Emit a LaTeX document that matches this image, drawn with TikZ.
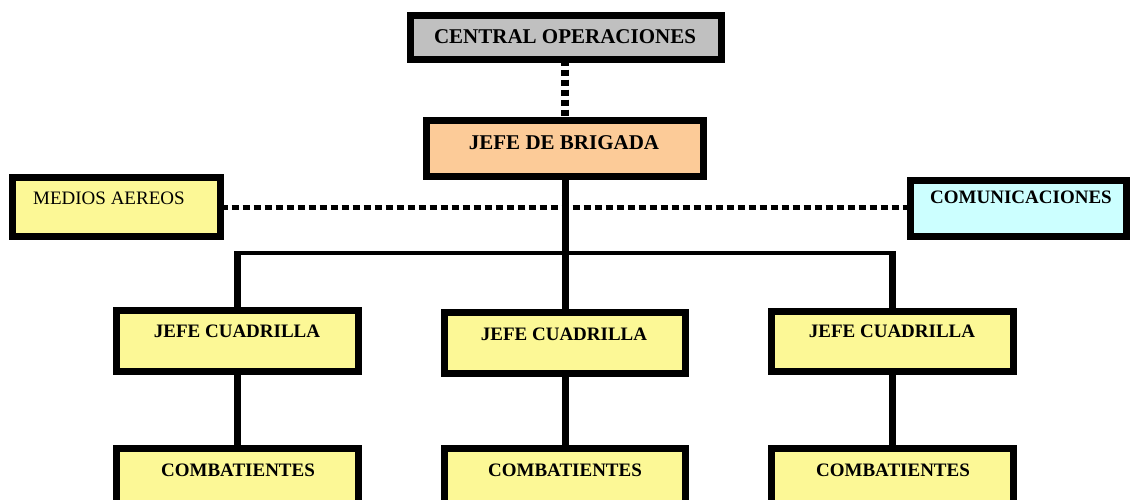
\documentclass[tikz,border=0pt]{standalone}
\usepackage{fontspec}
\setmainfont{Liberation Serif}
\usetikzlibrary{calc}
\definecolor{boxgray}{HTML}{C0C0C0}
\definecolor{boxorange}{HTML}{FCCB98}
\definecolor{boxyellow}{HTML}{FCF896}
\definecolor{boxcyan}{HTML}{CCFFFF}
\tikzset{
  box/.style={draw=black, line width=7pt, inner sep=0pt, outer sep=0pt},
  lblbig/.style={font=\fontsize{21}{21}\selectfont\bfseries, inner sep=0pt},
  lbl/.style={font=\fontsize{19}{19}\selectfont\bfseries, inner sep=0pt},
  lblreg/.style={font=\fontsize{19}{19}\selectfont, inner sep=0pt},
  solidcon/.style={line width=7pt},
  buscon/.style={line width=4pt},
  dotv/.style={line width=8pt, dash pattern=on 6pt off 4pt},
  doth/.style={line width=5pt, dash pattern=on 7pt off 4pt},
}
\begin{document}
\begin{tikzpicture}[x=1pt, y={(0pt,-1pt)}]
\useasboundingbox (0,0) rectangle (1135,499);
\fill[white] (0,0) rectangle (1135,499);
% boxes
\node[box, fill=boxgray, minimum width=311pt, minimum height=44pt] (central) at (566,37.5) {};
\node[box, fill=boxorange, minimum width=277pt, minimum height=56pt] (brigada) at (565,148.5) {};
\node[box, fill=boxyellow, minimum width=208pt, minimum height=59pt] (medios) at (116.5,207) {};
\node[box, fill=boxcyan, minimum width=216pt, minimum height=56pt] (comunic) at (1018.5,208.5) {};
\node[box, fill=boxyellow, minimum width=242pt, minimum height=61pt] (jc1) at (237.5,341) {};
\node[box, fill=boxyellow, minimum width=241pt, minimum height=61pt] (jc2) at (565,343) {};
\node[box, fill=boxyellow, minimum width=242pt, minimum height=60pt] (jc3) at (892.5,341.5) {};
\node[box, fill=boxyellow, minimum width=242pt, minimum height=60pt] (cb1) at (237.5,478.5) {};
\node[box, fill=boxyellow, minimum width=241pt, minimum height=60pt] (cb2) at (565,478.5) {};
\node[box, fill=boxyellow, minimum width=242pt, minimum height=60pt] (cb3) at (892.5,478.5) {};
% labels
\node[lblbig] (tcentral) at (565,37) {CENTRAL OPERACIONES};
\node[lblbig] (tbrigada) at (564,143) {JEFE DE BRIGADA};
\node[lblreg, anchor=west] (tmedios) at (33,198) {MEDIOS AEREOS};
\node[lbl] (tcomunic) at (1021,197) {COMUNICACIONES};
\node[lbl] (tjc1) at (237,331) {JEFE CUADRILLA};
\node[lbl] (tjc2) at (564,334) {JEFE CUADRILLA};
\node[lbl] (tjc3) at (892,331) {JEFE CUADRILLA};
\node[lbl] (tcb1) at (238,470) {COMBATIENTES};
\node[lbl] (tcb2) at (565,470) {COMBATIENTES};
\node[lbl] (tcb3) at (893,470) {COMBATIENTES};
% connectors
\coordinate (bus) at (565,253);
\coordinate (bustop) at (565,251);
\draw[dotv] ([xshift=-1.5pt]central.south) -- ([xshift=-0.5pt]brigada.north);
\draw[doth] (medios.east) -- (medios.east -| comunic.west);
\draw[buscon] ([xshift=-3.5pt]jc1.north |- bus) -- ([xshift=3.5pt]jc3.north |- bus);
\draw[solidcon] (brigada.south) -- (jc2.north);
\draw[solidcon] (jc1.north) -- (jc1.north |- bustop);
\draw[solidcon] (jc3.north) -- (jc3.north |- bustop);
\draw[solidcon] (jc1.south) -- (cb1.north);
\draw[solidcon] (jc2.south) -- (cb2.north);
\draw[solidcon] (jc3.south) -- (cb3.north);
\end{tikzpicture}
\end{document}
